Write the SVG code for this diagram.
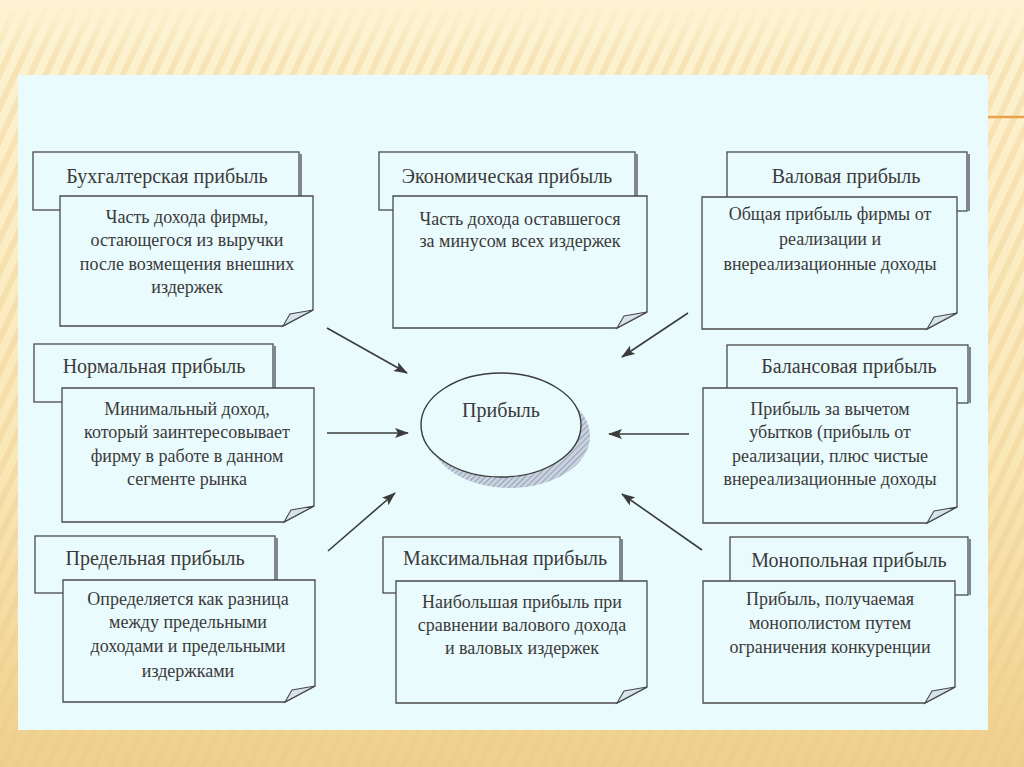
<svg xmlns="http://www.w3.org/2000/svg" width="1024" height="767" viewBox="0 0 1024 767">
<defs>
<linearGradient id="bg" x1="0" y1="0" x2="0" y2="1">
<stop offset="0" stop-color="#FDF3D2"/>
<stop offset="0.6" stop-color="#FAE7B6"/>
<stop offset="1" stop-color="#EFD08C"/>
</linearGradient>
<pattern id="stripes" width="14" height="14" patternUnits="userSpaceOnUse" patternTransform="rotate(25)">
<rect x="0" y="0" width="6" height="14" fill="#E9C98A" opacity="0.35"/>
</pattern>
<linearGradient id="fadeTop" x1="0" y1="0" x2="0" y2="1">
<stop offset="0" stop-color="#FDF3D2" stop-opacity="1"/>
<stop offset="1" stop-color="#FDF3D2" stop-opacity="0"/>
</linearGradient>
<pattern id="hatch" width="4" height="4" patternUnits="userSpaceOnUse" patternTransform="rotate(45)">
<rect width="4" height="4" fill="#c9d3e0"/>
<line x1="0" y1="0" x2="0" y2="4" stroke="#7f8aa3" stroke-width="1.4"/>
</pattern>
<marker id="ah" viewBox="0 0 14 10" refX="13" refY="5" markerWidth="14" markerHeight="10" markerUnits="userSpaceOnUse" orient="auto">
<path d="M0,0 L14,5 L0,10 L3,5 Z" fill="#3c3c3c"/>
</marker>
</defs>
<style>
.back{fill:#EAFBFD;stroke:#4a4a4a;stroke-width:1.3}
.bshadow{fill:none;stroke:#7d8498;stroke-width:2}
.front{fill:#EAFBFD;stroke:#4a4a4a;stroke-width:1.3}
.fold{fill:#d6e3ec;stroke:#4a4a4a;stroke-width:1.1}
.title{font-family:"Liberation Serif","Times New Roman",serif;font-size:20px;fill:#3a3a3a;text-anchor:middle}
.body{font-family:"Liberation Serif","Times New Roman",serif;font-size:18px;fill:#3a3a3a;text-anchor:middle}
.conn{stroke:#3c3c3c;stroke-width:1.6;fill:none;marker-end:url(#ah)}
</style>

<!-- background -->
<rect x="0" y="0" width="1024" height="767" fill="url(#bg)"/>
<rect x="0" y="0" width="1024" height="767" fill="url(#stripes)"/>
<rect x="0" y="0" width="1024" height="60" fill="url(#fadeTop)"/>
<rect x="18" y="75" width="970" height="655" fill="#E9FBFD"/>
<line x1="988" y1="117" x2="1024" y2="117" stroke="#E9A24A" stroke-width="2.5"/>

<!-- connectors -->
<g id="connectors">
<line class="conn" x1="327" y1="328" x2="407" y2="373"/>
<line class="conn" x1="688" y1="313" x2="622" y2="357"/>
<line class="conn" x1="327" y1="433" x2="408" y2="433"/>
<line class="conn" x1="689" y1="434" x2="609" y2="434"/>
<line class="conn" x1="328" y1="551" x2="395" y2="493"/>
<line class="conn" x1="702" y1="550" x2="622" y2="494"/>
</g>

<!-- center -->
<g id="profit">
<ellipse cx="510" cy="436" rx="80" ry="52" fill="url(#hatch)"/>
<ellipse cx="501" cy="425" rx="80" ry="52" fill="#EAFBFD" stroke="#3c3c3c" stroke-width="1.4"/>
<text class="title" x="501" y="417">Прибыль</text>
</g>

<!-- Бухгалтерская -->
<g id="accounting">
<rect class="back" x="33" y="152" width="266" height="58"/>
<line class="bshadow" x1="301" y1="154" x2="301" y2="196"/>
<text class="title" x="167" y="183">Бухгалтерская прибыль</text>
<path class="front" d="M60,196 H313 V310 L283,326 H60 Z"/>
<path class="fold" d="M283,326 L290,314 L313,310 Z"/>
<text class="body" x="187" y="223">Часть дохода фирмы,</text>
<text class="body" x="187" y="246">остающегося из выручки</text>
<text class="body" x="187" y="270">после возмещения внешних</text>
<text class="body" x="187" y="293">издержек</text>
</g>

<!-- Экономическая -->
<g id="economic">
<rect class="back" x="379" y="152" width="256" height="58"/>
<line class="bshadow" x1="637" y1="154" x2="637" y2="196"/>
<text class="title" x="507" y="183">Экономическая прибыль</text>
<path class="front" d="M393,196 H647 V312 L617,328 H393 Z"/>
<path class="fold" d="M617,328 L624,316 L647,312 Z"/>
<text class="body" x="520" y="225">Часть дохода оставшегося</text>
<text class="body" x="520" y="247">за минусом всех издержек</text>
</g>

<!-- Валовая -->
<g id="gross">
<rect class="back" x="727" y="152" width="240" height="59"/>
<line class="bshadow" x1="969" y1="154" x2="969" y2="211"/>
<text class="title" x="846" y="183">Валовая прибыль</text>
<path class="front" d="M702,197 H957 V313 L927,329 H702 Z"/>
<path class="fold" d="M927,329 L934,317 L957,313 Z"/>
<text class="body" x="830" y="220">Общая прибыль фирмы от</text>
<text class="body" x="830" y="245">реализации и</text>
<text class="body" x="830" y="270">внереализационные доходы</text>
</g>

<!-- Нормальная -->
<g id="normal">
<rect class="back" x="34" y="344" width="239" height="58"/>
<line class="bshadow" x1="275" y1="346" x2="275" y2="388"/>
<text class="title" x="154" y="373">Нормальная прибыль</text>
<path class="front" d="M62,388 H314 V506 L284,522 H62 Z"/>
<path class="fold" d="M284,522 L291,510 L314,506 Z"/>
<text class="body" x="187" y="415">Минимальный доход,</text>
<text class="body" x="187" y="438">который заинтересовывает</text>
<text class="body" x="187" y="462">фирму в работе в данном</text>
<text class="body" x="187" y="485">сегменте рынка</text>
</g>

<!-- Балансовая -->
<g id="balance">
<rect class="back" x="727" y="345" width="241" height="58"/>
<line class="bshadow" x1="970" y1="347" x2="970" y2="403"/>
<text class="title" x="849" y="373">Балансовая прибыль</text>
<path class="front" d="M703,388 H957 V507 L927,523 H703 Z"/>
<path class="fold" d="M927,523 L934,511 L957,507 Z"/>
<text class="body" x="830" y="415">Прибыль за вычетом</text>
<text class="body" x="830" y="438">убытков (прибыль от</text>
<text class="body" x="830" y="462">реализации,  плюс чистые</text>
<text class="body" x="830" y="485">внереализационные доходы</text>
</g>

<!-- Предельная -->
<g id="marginal">
<rect class="back" x="35" y="536" width="240" height="57"/>
<line class="bshadow" x1="277" y1="538" x2="277" y2="580"/>
<text class="title" x="155" y="565">Предельная прибыль</text>
<path class="front" d="M63,580 H315 V686 L285,702 H63 Z"/>
<path class="fold" d="M285,702 L292,690 L315,686 Z"/>
<text class="body" x="188" y="605">Определяется как разница</text>
<text class="body" x="188" y="628">между предельными</text>
<text class="body" x="188" y="652">доходами и предельными</text>
<text class="body" x="188" y="677">издержками</text>
</g>

<!-- Максимальная -->
<g id="maximum">
<rect class="back" x="383" y="537" width="237" height="56"/>
<line class="bshadow" x1="622" y1="539" x2="622" y2="581"/>
<text class="title" x="505" y="565">Максимальная прибыль</text>
<path class="front" d="M396,581 H647 V687 L617,703 H396 Z"/>
<path class="fold" d="M617,703 L624,691 L647,687 Z"/>
<text class="body" x="522" y="608">Наибольшая прибыль при</text>
<text class="body" x="522" y="631">сравнении валового дохода</text>
<text class="body" x="522" y="654">и валовых издержек</text>
</g>

<!-- Монопольная -->
<g id="monopoly">
<rect class="back" x="730" y="537" width="238" height="58"/>
<line class="bshadow" x1="970" y1="539" x2="970" y2="595"/>
<text class="title" x="849" y="567">Монопольная прибыль</text>
<path class="front" d="M703,581 H955 V687 L925,703 H703 Z"/>
<path class="fold" d="M925,703 L932,691 L955,687 Z"/>
<text class="body" x="830" y="605">Прибыль, получаемая</text>
<text class="body" x="830" y="629">монополистом путем</text>
<text class="body" x="830" y="653">ограничения конкуренции</text>
</g>
</svg>
